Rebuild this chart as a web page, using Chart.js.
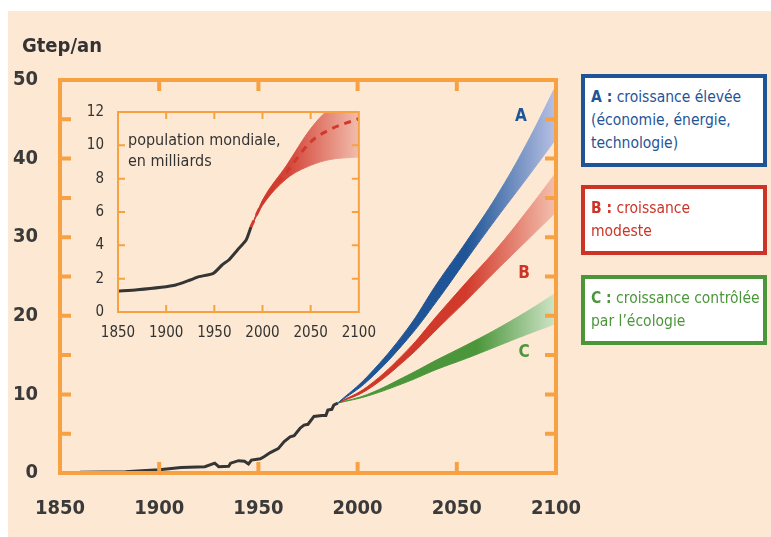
<!DOCTYPE html>
<html>
<head>
<meta charset="utf-8">
<title>Gtep/an</title>
<script src="https://cdn.jsdelivr.net/npm/chart.js"></script>
<style>
  body { margin: 0; background: #fff; }
  .wrap { position: relative; width: 771px; height: 537px; overflow: hidden;
          font-family: "DejaVu Sans Condensed", "DejaVu Sans", sans-serif; color: #333; }
  .bg { position: absolute; left: 8px; top: 11px; right: 0; bottom: 0; background: #fde9d3; }
  canvas { position: absolute; }
  #main { left: 0; top: 0; }
  #inset { left: 70px; top: 95px; }
  .unit { position: absolute; left: 22px; top: 34px; font-weight: bold; font-size: 20px; line-height: 22px; }
  .pop { position: absolute; left: 128px; top: 129px; font-size: 16px; line-height: 21px; }
  .tag { position: absolute; font-weight: bold; font-size: 17px; line-height: 20px; transform: translate(-50%, -50%); }
  .box { position: absolute; left: 581px; width: 186px; box-sizing: border-box; border: 4px solid;
         background: #fff; padding: 8px 0 0 6px; font-size: 15.5px; line-height: 23px; }
  .box b { font-weight: bold; }
</style>
</head>
<body>
<div class="wrap">
  <div class="bg"></div>
  <canvas id="main" width="771" height="537"></canvas>
  <canvas id="inset" width="310" height="255"></canvas>
  <div class="unit">Gtep/an</div>
  <div class="pop">population mondiale,<br>en milliards</div>
  <div class="tag" style="left:521px; top:115px; color:#1f5597">A</div>
  <div class="tag" style="left:524px; top:272px; color:#cc3427">B</div>
  <div class="tag" style="left:524px; top:351px; color:#4b963a">C</div>
  <div class="box" style="top:74px; height:93px; border-color:#1f5597; color:#1f5597"><b>A :</b> croissance élevée<br>(économie, énergie,<br>technologie)</div>
  <div class="box" style="top:185px; height:70px; border-color:#cc3427; color:#cc3427"><b>B :</b> croissance<br>modeste</div>
  <div class="box" style="top:275px; height:70px; border-color:#4b963a; color:#4b963a"><b>C :</b> croissance contrôlée<br>par l’écologie</div>
</div>
<script>
// consommation mondiale d'énergie (Gtep/an), historique
const histYears  = [1860, 1883, 1889, 1900, 1911, 1923, 1928, 1930, 1935, 1936, 1940, 1943, 1945, 1946.5, 1951, 1953, 1956, 1960, 1963, 1966, 1968, 1971, 1973, 1975, 1978, 1982, 1984, 1985, 1987, 1988, 1990];
const histValues = [0.1, 0.15, 0.25, 0.4, 0.7, 0.8, 1.25, 0.8, 0.85, 1.25, 1.57, 1.5, 1.15, 1.65, 1.8, 2.1, 2.6, 3.1, 4.0, 4.6, 4.75, 5.7, 6.1, 6.2, 7.2, 7.3, 7.3, 8.0, 8.1, 8.65, 8.9];

// scénarios A, B, C (fourchettes basse / haute)
const fanYears = [1990, 2005, 2025, 2040, 2055, 2070, 2085, 2100];
const aLow  = [8.9, 11.7, 17.0, 21.9, 27.2, 32.4, 37.4, 42.5];
const aHigh = [8.9, 12.3, 18.3, 24.1, 29.5, 35.2, 41.8, 49.3];
const bLow  = [8.9, 10.6, 14.6, 18.3, 22.0, 25.8, 29.5, 33.2];
const bHigh = [8.9, 11.0, 15.6, 20.0, 24.3, 28.5, 33.2, 38.2];
const cLow  = [8.9, 9.8, 11.6, 13.2, 14.6, 16.1, 17.6, 19.0];
const cHigh = [8.9, 10.0, 12.4, 14.4, 16.3, 18.3, 20.5, 22.9];

const xTicks = [1850, 1900, 1950, 2000, 2050, 2100];
const yTicks = [0, 10, 20, 30, 40, 50];
const yMarks = [5, 10, 15, 20, 25, 30, 35, 40, 45];
const xMarks = [1900, 1950, 2000, 2050];

// encart : population mondiale (milliards)
const popYears  = [1850, 1870, 1895, 1910, 1925, 1934, 1949, 1958, 1965, 1974, 1983, 1988];
const popValues = [1.25, 1.33, 1.48, 1.62, 1.92, 2.12, 2.32, 2.82, 3.12, 3.72, 4.32, 5.1];
const projYears = [1988, 2000, 2025, 2050, 2070, 2100];
const projLow   = [5.1, 6.4, 8.0, 8.8, 9.15, 9.3];
const projMid   = [5.1, 6.55, 8.4, 10.2, 10.95, 11.6];
const projHigh  = [5.1, 6.7, 8.8, 11.0, 12.2, 12.8];

const insetXTicks = [1850, 1900, 1950, 2000, 2050, 2100];
const insetYTicks = [0, 2, 4, 6, 8, 10, 12];
const insetYMarks = [2, 4, 6, 8, 10];
const insetXMarks = [1900, 1950, 2000, 2050];

const ORANGE = '#f7a143';
const pts = (xs, ys) => xs.map((x, i) => ({x: x, y: ys[i]}));

function ramp(stops) {
  return function (c) {
    const chart = c.chart;
    const area = chart.chartArea;
    if (!area) return stops[0][1];
    const sx = chart.scales.x;
    const x0 = sx.getPixelForValue(stops[0][0]);
    const x1 = sx.getPixelForValue(stops[stops.length - 1][0]);
    const g = chart.ctx.createLinearGradient(x0, 0, x1, 0);
    stops.forEach(s => g.addColorStop((sx.getPixelForValue(s[0]) - x0) / (x1 - x0), s[1]));
    return g;
  };
}

function frame(o) {
  return {
    id: 'frame',
    beforeDraw(chart) {
      if (!o.fill) return;
      const a = chart.chartArea, ctx = chart.ctx;
      ctx.save();
      ctx.fillStyle = o.fill;
      ctx.fillRect(a.left, a.top, a.width, a.height);
      ctx.restore();
    },
    afterDatasetsDraw(chart) {
      const a = chart.chartArea, ctx = chart.ctx;
      const x = chart.scales.x, y = chart.scales.y;
      ctx.save();
      ctx.strokeStyle = ORANGE;
      ctx.lineWidth = o.tickWidth;
      ctx.beginPath();
      o.yMarks.forEach(v => {
        const p = y.getPixelForValue(v);
        ctx.moveTo(a.left, p); ctx.lineTo(a.left + o.len, p);
        ctx.moveTo(a.right, p); ctx.lineTo(a.right - o.len, p);
      });
      o.xMarks.forEach(v => {
        const p = x.getPixelForValue(v);
        ctx.moveTo(p, a.bottom); ctx.lineTo(p, a.bottom - o.len);
        ctx.moveTo(p, a.top); ctx.lineTo(p, a.top + o.len);
      });
      ctx.stroke();
      ctx.lineWidth = o.border;
      ctx.strokeRect(a.left, a.top, a.width, a.height);
      ctx.restore();
    }
  };
}

function band(low, high, stops) {
  const col = ramp(stops);
  return [
    { data: pts(fanYears, low), borderColor: col, borderWidth: 1, pointRadius: 0, fill: false,
      tension: 0.4, order: 1 },
    { data: pts(fanYears, high), borderColor: col, backgroundColor: col, borderWidth: 1, pointRadius: 0, fill: '-1',
      tension: 0.4, order: 1 }
  ];
}

const mainFont = { family: '"DejaVu Sans Condensed", "DejaVu Sans", sans-serif', size: 20, weight: 'bold' };

new Chart(document.getElementById('main'), {
  type: 'line',
  data: {
    datasets: [
      { data: pts(histYears, histValues), borderColor: '#353535', borderWidth: 3, pointRadius: 0, tension: 0, fill: false, order: 0 },
      ...band(aLow, aHigh, [[1990, '#1f5597'], [2055, '#1f5597'], [2100, '#b7c1e4']]),
      ...band(bLow, bHigh, [[1990, '#cc3427'], [2055, '#d23b2c'], [2100, '#f4c0ae']]),
      ...band(cLow, cHigh, [[1990, '#4b963a'], [2060, '#4b963a'], [2100, '#d0e5c9']])
    ]
  },
  options: {
    responsive: false,
    animation: false,
    devicePixelRatio: 1,
    layout: { padding: { left: 0, top: 80, right: 215, bottom: 2 } },
    plugins: { legend: { display: false }, tooltip: { enabled: false } },
    scales: {
      x: {
        type: 'linear', min: 1850, max: 2100,
        afterBuildTicks: s => { s.ticks = xTicks.map(v => ({ value: v })); },
        afterFit: s => { s.height = 62; },
        grid: { display: false }, border: { display: false },
        ticks: { color: '#3a3a3a', font: mainFont, padding: 16, maxRotation: 0, callback: v => String(v) }
      },
      y: {
        min: 0, max: 50,
        afterBuildTicks: s => { s.ticks = yTicks.map(v => ({ value: v })); },
        afterFit: s => { s.width = 60; },
        grid: { display: false }, border: { display: false },
        ticks: { color: '#3a3a3a', font: mainFont, padding: 14, callback: v => String(v) }
      }
    }
  },
  plugins: [frame({ yMarks: yMarks, xMarks: xMarks, len: 11, tickWidth: 4, border: 4 })]
});

const insetFont = { family: '"DejaVu Sans Condensed", "DejaVu Sans", sans-serif', size: 15 };
const redRamp = ramp([[1988, '#cc3023'], [2028, '#d4473a'], [2100, '#f2bdad']]);

new Chart(document.getElementById('inset'), {
  type: 'line',
  data: {
    datasets: [
      { data: pts(popYears, popValues), borderColor: '#353535', borderWidth: 3, pointRadius: 0, tension: 0.2, fill: false, order: 0 },
      { data: pts(projYears, projLow), borderColor: redRamp, borderWidth: 1, pointRadius: 0, fill: false, cubicInterpolationMode: 'monotone', order: 2 },
      { data: pts(projYears, projHigh), borderColor: redRamp, backgroundColor: redRamp, borderWidth: 1, pointRadius: 0, fill: '-1', cubicInterpolationMode: 'monotone', order: 2 },
      { data: pts(projYears, projMid), borderColor: '#d03a2c', borderWidth: 3, borderDash: [7, 6], pointRadius: 0, fill: false, cubicInterpolationMode: 'monotone', order: 1 }
    ]
  },
  options: {
    responsive: false,
    animation: false,
    devicePixelRatio: 1,
    layout: { padding: { left: 0, top: 17, right: 21, bottom: 2 } },
    plugins: { legend: { display: false }, tooltip: { enabled: false } },
    scales: {
      x: {
        type: 'linear', min: 1850, max: 2100,
        afterBuildTicks: s => { s.ticks = insetXTicks.map(v => ({ value: v })); },
        afterFit: s => { s.height = 36; },
        grid: { display: false }, border: { display: false },
        ticks: { color: '#333', font: insetFont, padding: 4, maxRotation: 0, callback: v => String(v) }
      },
      y: {
        min: 0, max: 12,
        afterBuildTicks: s => { s.ticks = insetYTicks.map(v => ({ value: v })); },
        afterFit: s => { s.width = 48; },
        grid: { display: false }, border: { display: false },
        ticks: { color: '#333', font: insetFont, padding: 6, callback: v => String(v) }
      }
    }
  },
  plugins: [frame({ fill: '#fde9d3', yMarks: insetYMarks, xMarks: insetXMarks, len: 7, tickWidth: 2, border: 2 })]
});
</script>
</body>
</html>
